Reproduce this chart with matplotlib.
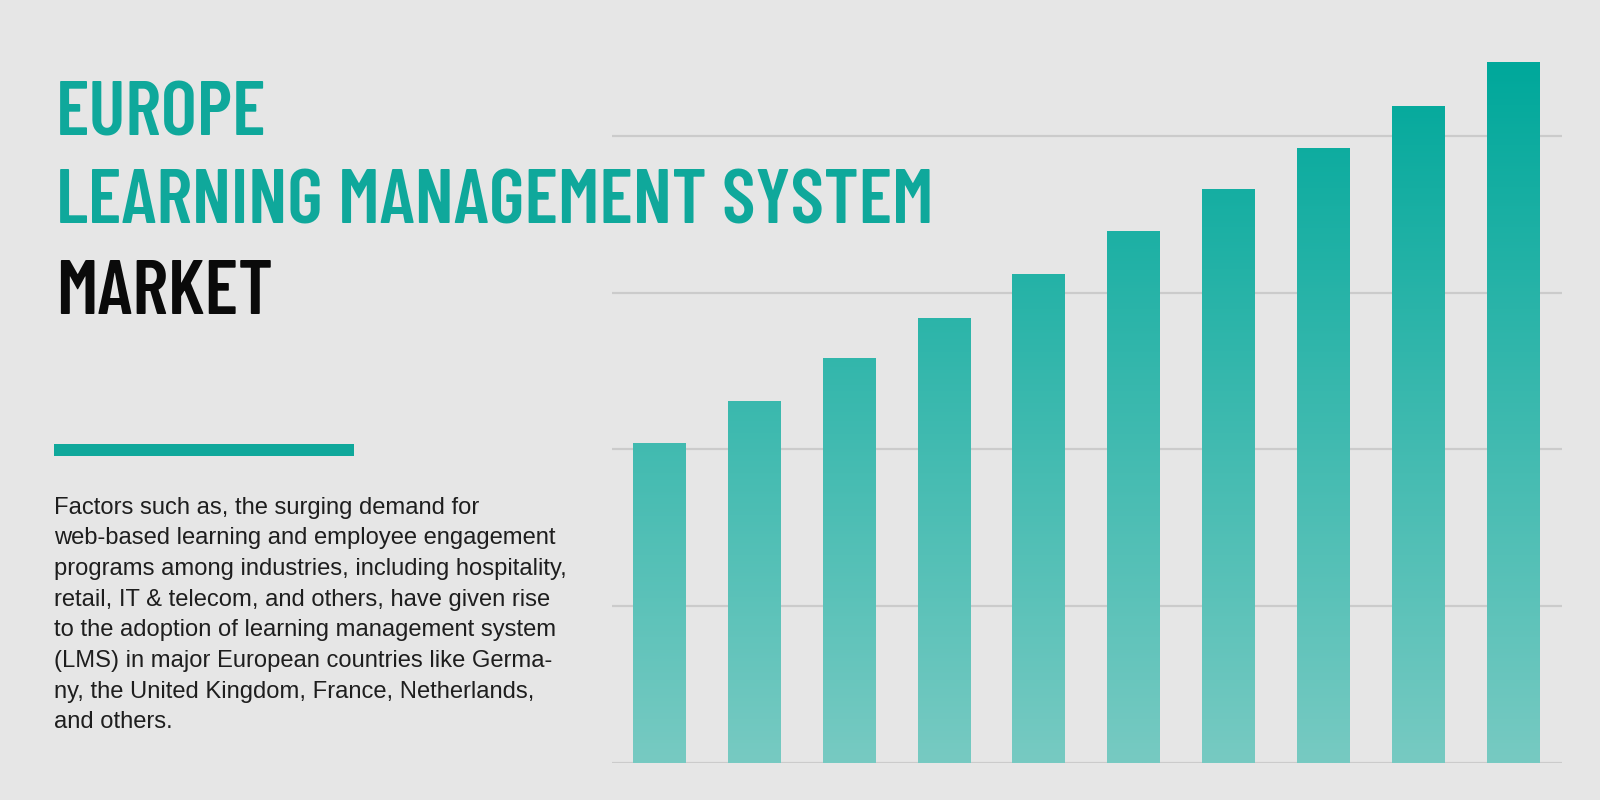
import numpy as np
import matplotlib.pyplot as plt
from matplotlib.colors import LinearSegmentedColormap

# Bar heights (grid step = 1 unit)
years = list(range(10))
values = [2.04, 2.31, 2.58, 2.84, 3.12, 3.39, 3.66, 3.92, 4.19, 4.47]
grid_levels = [0, 1, 2, 3, 4]

title_lines = ["EUROPE", "LEARNING MANAGEMENT SYSTEM", "MARKET"]
body_lines = [
	"Factors such as, the surging demand for",
	"web-based learning and employee engagement",
	"programs among industries, including hospitality,",
	"retail, IT & telecom, and others, have given rise",
	"to the adoption of learning management system",
	"(LMS) in major European countries like Germa-",
	"ny, the United Kingdom, France, Netherlands,",
	"and others.",
]

BG = "#E6E6E6"
TEAL = "#0FA89B"
TITLE_FONT = ["Barlow Condensed", "Liberation Sans", "DejaVu Sans"]
BODY_FONT = ["Liberation Sans", "DejaVu Sans"]

W, H = 1600, 800
fig = plt.figure(figsize=(16, 8), dpi=100, facecolor=BG)

# chart area
ymax = 4.61
ax = fig.add_axes([612 / W, 1 - 763 / H, (1562 - 612) / W, (763 - 40) / H])
ax.set_facecolor(BG)
for lvl in grid_levels:
	ax.axhline(lvl, color="#CBCBCB", linewidth=1.6, zorder=1)
for s in ax.spines.values():
	s.set_visible(False)
ax.set_xticks([])
ax.set_yticks([])

cmap = LinearSegmentedColormap.from_list("teal", ["#77CAC2", "#00A89B"])
grad = np.linspace(0, ymax / max(values), 256).reshape(-1, 1)
bars = ax.bar(years, values, width=0.55, color="none", edgecolor="none", zorder=2)
for b in bars:
	x0 = b.get_x()
	img = ax.imshow(grad, cmap=cmap, vmin=0, vmax=1, origin="lower", aspect="auto",
					extent=[x0, x0 + b.get_width(), 0, ymax], zorder=2)
	img.set_clip_path(b)
ax.set_xlim(-0.495, 9.515)
ax.set_ylim(0, ymax)

# title
title_base = [135, 224, 314]
title_colors = [TEAL, TEAL, "#0A0A0A"]
titles = []
for txt, yb, c in zip(title_lines, title_base, title_colors):
	t = fig.text(56 / W, 1 - yb / H, txt, family=TITLE_FONT, fontweight="semibold",
				 fontsize=60, color=c, va="baseline", ha="left", zorder=5)
	titles.append(t)

# shrink the title so the long line ends where it does in the reference
fig.canvas.draw()
r = fig.canvas.get_renderer()
wide = titles[1].get_window_extent(r).width
size = min(60, 60 * 878 / wide)
for t in titles:
	t.set_fontsize(size)

# teal rule
fig.add_artist(plt.Rectangle((54 / W, 1 - 456 / H), (354 - 54) / W, 12 / H,
							 transform=fig.transFigure, color=TEAL, lw=0))

# paragraph
for i, line in enumerate(body_lines):
	fig.text(54 / W, 1 - (513.6 + 30.7 * i) / H, line, family=BODY_FONT,
			 fontsize=17.1, color="#1E1E1E", va="baseline", ha="left")

fig.savefig("out.png", dpi=100, facecolor=BG)
